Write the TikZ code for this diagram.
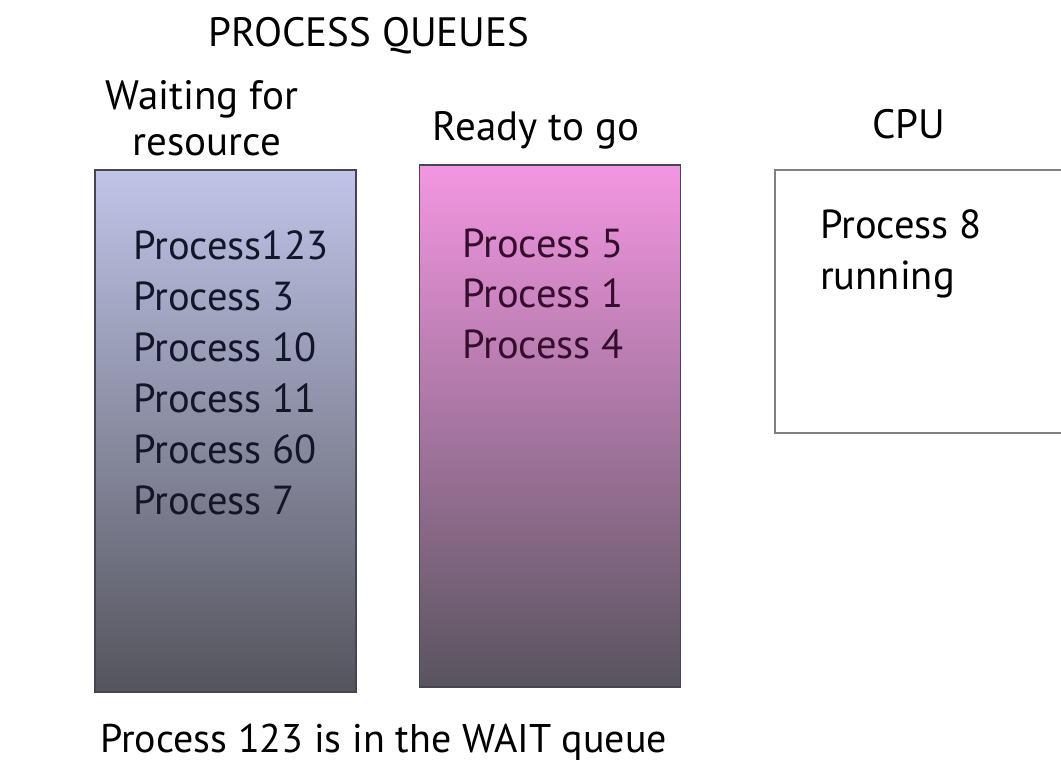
\documentclass[tikz,border=0pt]{standalone}
\usepackage{fontspec}
\setmainfont{PT Sans}
\usetikzlibrary{positioning}

\definecolor{waittop}{RGB}{192,196,232}
\definecolor{waitbot}{RGB}{84,84,92}
\definecolor{readytop}{RGB}{244,150,226}
\definecolor{readybot}{RGB}{88,84,94}
\definecolor{edgegray}{RGB}{70,70,80}
\definecolor{waittxt}{RGB}{18,22,40}
\definecolor{readytxt}{RGB}{52,14,44}

\begin{document}
\begin{tikzpicture}[
    x=1pt, y=-1pt,
    queue/.style={draw=edgegray, line width=1.2pt, minimum width=261pt, minimum height=522pt, inner sep=0pt},
    head/.style={font=\fontsize{41}{48}\selectfont, inner sep=0pt, anchor=base},
    item/.style={font=\fontsize{40.5}{51}\selectfont, inner sep=0pt, anchor=base west}
]
\clip (0,0) rectangle (1061,764);
\fill[white] (0,0) rectangle (1061,764);

% the three boxes
\node[queue, top color=waittop, bottom color=waitbot]   (wait)  at (225.5,431) {};
\node[queue, top color=readytop, bottom color=readybot] (ready) at (550,426) {};
\node[queue, fill=white, draw=gray, minimum height=263pt, minimum width=320pt] (cpu) at (935,301.5) {};

% headings
\node[head] (title) at (369,46) {PROCESS QUEUES};
\node[head] (waithead)  at (202,109) {Waiting for};
\node[head] (waithead2) at (207,155) {resource};
\node[head] (readyhead) at (536,140) {Ready to go};
\node[head] (cpuhead)   at (909,138) {CPU};

% queue contents
\foreach \n/\t [count=\i from 0] in {a/Process123, b/Process 3, c/Process 10, d/Process 11, e/Process 60, f/Process 7}
  \node[item, text=waittxt] (w\n) at (133,259+51*\i) {\t};
\foreach \n/\t [count=\i from 0] in {a/Process 5, b/Process 1, c/Process 4}
  \node[item, text=readytxt] (r\n) at (462,257+50.5*\i) {\t};
\node[item] (run1) at (820,238) {Process 8};
\node[item] (run2) at (820,289) {running};

\node[item, font=\fontsize{40}{48}\selectfont] (note) at (100,752) {Process 123 is in the WAIT queue};
\end{tikzpicture}
\end{document}
